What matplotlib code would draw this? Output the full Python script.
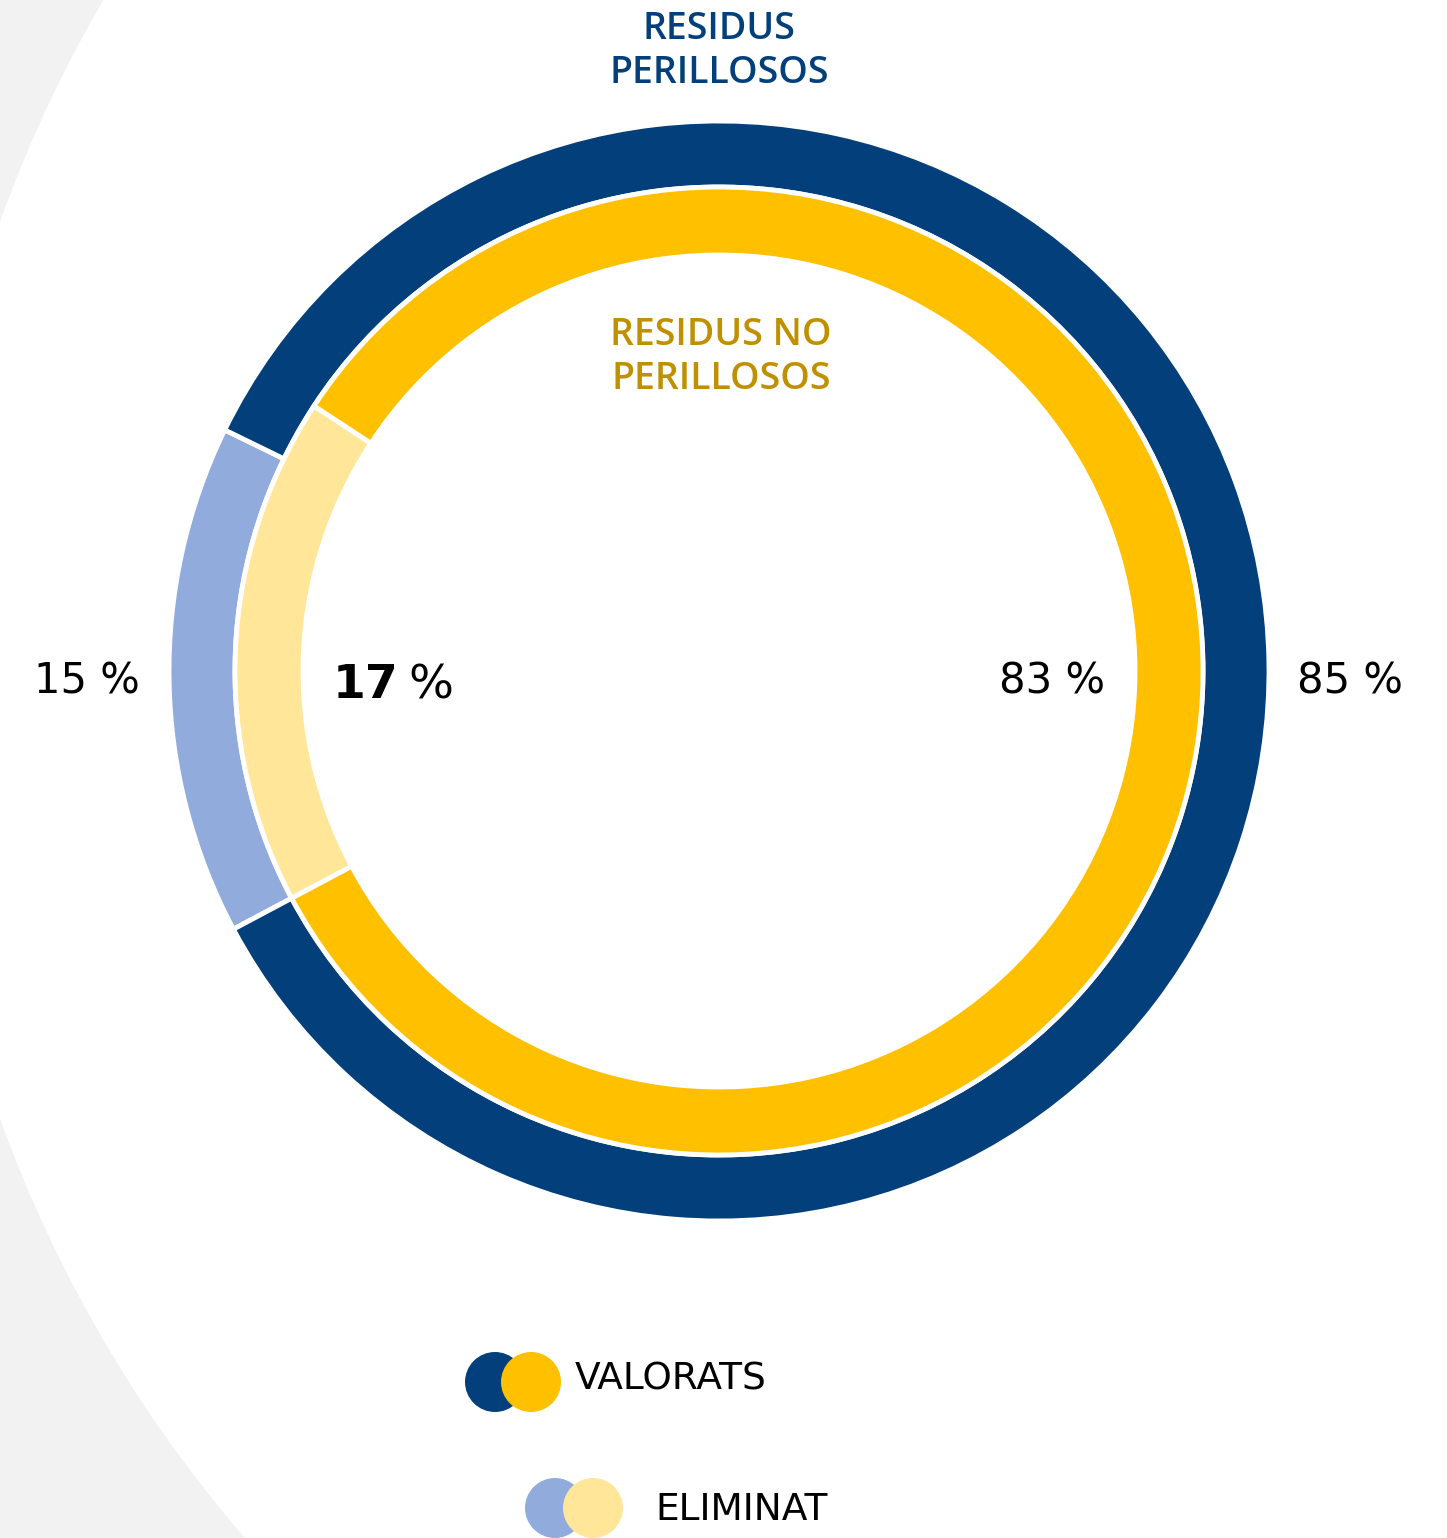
import matplotlib
matplotlib.use("Agg")
import matplotlib.pyplot as plt
from matplotlib.patches import Circle

# ---- data ----
categories = ["ELIMINAT", "VALORATS"]
perillosos = [15, 85]        # outer ring
no_perillosos = [17, 83]     # inner ring
outer_labels = ["15 %", "85 %"]
inner_labels = ["17", "83"]
ring_titles = ["RESIDUS\nPERILLOSOS", "RESIDUS NO\nPERILLOSOS"]

outer_colors = ["#91ACDC", "#03407B"]
inner_colors = ["#FFE699", "#FFC000"]

W, H = 1447, 1538
plt.rcParams['font.family'] = ['DejaVu Sans']
fig = plt.figure(figsize=(W / 100, H / 100), dpi=100)
ax = fig.add_axes([0, 0, 1, 1])

def Y(y):
    return H - y

# background: light gray with a big white circle
fig.patch.set_facecolor("#F2F2F2")
ax.add_patch(Circle((1250, Y(670)), 1328, facecolor="white", edgecolor="none", zorder=0))

cx, cy = 719, Y(671)
ax.pie(perillosos, radius=550, center=(cx, cy), startangle=208, counterclock=False,
       colors=outer_colors,
       wedgeprops=dict(width=66, edgecolor="white", linewidth=3.5), frame=True)
ax.pie(no_perillosos, radius=484, center=(cx, cy), startangle=208, counterclock=False,
       colors=inner_colors,
       wedgeprops=dict(width=68, edgecolor="white", linewidth=3.5), frame=True)

# titles
title_font = ['Open Sans', 'DejaVu Sans']
ax.text(719, Y(51), ring_titles[0], ha="center", va="center", fontsize=27,
        color="#03407B", fontweight="semibold", linespacing=1.22, family=title_font)
ax.text(721, Y(357), ring_titles[1], ha="center", va="center", fontsize=27,
        color="#BF9000", fontweight="semibold", linespacing=1.22, family=title_font)

# value labels
ax.text(87, Y(682), outer_labels[0], ha="center", va="center", fontsize=30, color="black")
ax.text(1350, Y(682), outer_labels[1], ha="center", va="center", fontsize=30, color="black")
ax.text(398, Y(686), inner_labels[0], ha="right", va="center", fontsize=34,
        color="black", fontweight="bold")
ax.text(408, Y(686), "%", ha="left", va="center", fontsize=34, color="black")
ax.text(1052, Y(682), inner_labels[1] + " %", ha="center", va="center", fontsize=30, color="black")

# legend
leg = [((495, 1382), (531, 1382), 575, 1380, outer_colors[1], inner_colors[1], categories[1]),
       ((555, 1508), (593, 1508), 655, 1510, outer_colors[0], inner_colors[0], categories[0])]
for (c1, c2, tx, ty, col1, col2, lab) in leg:
    ax.add_patch(Circle((c1[0], Y(c1[1])), 30, facecolor=col1, edgecolor="none", zorder=3))
    ax.add_patch(Circle((c2[0], Y(c2[1])), 30, facecolor=col2, edgecolor="none", zorder=4))
    ax.text(tx, Y(ty), lab, ha="left", va="center", fontsize=27, color="black",
            fontweight="normal")

ax.set_xlim(0, W)
ax.set_ylim(0, H)
ax.set_aspect("equal")
ax.axis("off")

fig.savefig("out.png", dpi=100, facecolor=fig.get_facecolor())
